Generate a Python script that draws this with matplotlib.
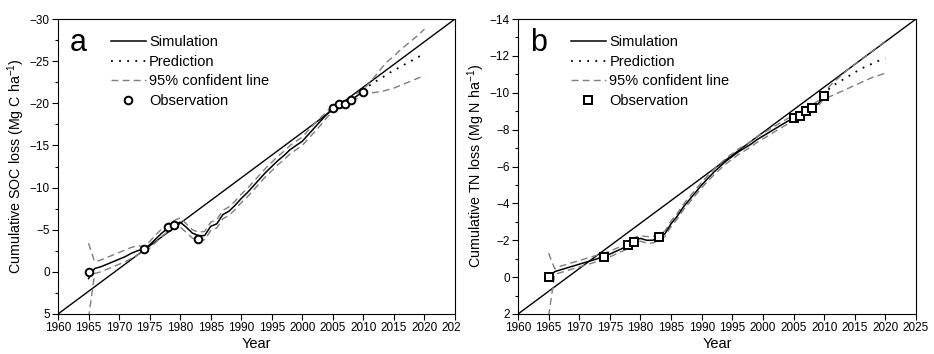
import matplotlib
matplotlib.use("Agg")
import matplotlib.pyplot as plt
from matplotlib.lines import Line2D
from matplotlib.transforms import Bbox, TransformedBbox
import numpy as np

plt.rcParams['font.family'] = ['Liberation Sans', 'DejaVu Sans']
plt.rcParams['mathtext.default'] = 'regular'

# ---------------- data ----------------
sim_years = list(range(1965, 2011))
pred_years = list(range(2010, 2021))
ci_years = list(range(1965, 2021))

# Panel a: SOC
soc_obs_years = [1965, 1974, 1978, 1979, 1983, 2005, 2006, 2007, 2008, 2010]
soc_obs = [0.0, -2.75, -5.3, -5.6, -3.9, -19.4, -19.9, -19.9, -20.35, -21.3]
soc_sim = [0.8, -0.4, -0.6, -0.9, -1.2, -1.5, -1.8, -2.2, -2.5, -2.7,
           -3.2, -3.9, -4.6, -5.2, -5.6, -5.9, -5.3, -4.6, -4.3, -4.3,
           -5.4, -5.7, -6.8, -7.2, -7.9, -8.7, -9.4, -10.2, -11.0, -11.8,
           -12.5, -13.2, -13.8, -14.5, -15.0, -15.5, -16.3, -17.1, -17.9, -18.7,
           -19.4, -19.8, -20.0, -20.4, -20.9, -21.4]
soc_pred = [-21.4, -22.1, -22.6, -23.0, -23.5, -23.9, -24.3, -24.7, -25.1, -25.5, -25.9]
soc_ci_up = [-3.4, -1.2, -1.4, -1.7, -2.0, -2.3, -2.6, -2.9, -3.1, -3.0,
             -3.6, -4.4, -5.1, -5.7, -6.1, -6.4, -5.7, -5.0, -4.7, -4.8,
             -5.9, -6.2, -7.3, -7.7, -8.4, -9.2, -9.9, -10.7, -11.5, -12.3,
             -13.0, -13.7, -14.3, -15.0, -15.5, -16.0, -16.8, -17.6, -18.3, -19.0,
             -19.7, -20.1, -20.3, -20.7, -21.2, -21.7, -22.4, -23.3, -24.2, -25.0,
             -25.6, -26.3, -26.9, -27.5, -28.1, -28.8]
soc_ci_low = [5.5, 0.2, 0.0, -0.3, -0.6, -0.9, -1.2, -1.6, -2.0, -2.4,
              -2.8, -3.5, -4.2, -4.8, -5.2, -5.3, -4.7, -4.0, -3.7, -3.8,
              -4.9, -5.2, -6.3, -6.7, -7.4, -8.2, -8.9, -9.7, -10.5, -11.3,
              -12.0, -12.7, -13.3, -14.0, -14.5, -15.0, -15.8, -16.6, -17.4, -18.3,
              -19.1, -19.5, -19.7, -20.1, -20.6, -21.0, -21.2, -21.3, -21.4, -21.6,
              -21.8, -22.1, -22.4, -22.7, -23.0, -23.3]
soc_oneone_x = [1960, 2025]
soc_oneone_y = [5, -30]

# Panel b: TN
tn_obs_years = [1965, 1974, 1978, 1979, 1983, 2005, 2006, 2007, 2008, 2010]
tn_obs = [0.0, -1.1, -1.72, -1.9, -2.15, -8.63, -8.75, -9.02, -9.2, -9.8]
tn_sim = [0.05, -0.3, -0.4, -0.5, -0.6, -0.7, -0.8, -0.9, -1.0, -1.15,
          -1.25, -1.4, -1.55, -1.7, -2.0, -2.1, -2.0, -2.0, -2.15, -2.35,
          -2.9, -3.3, -3.8, -4.2, -4.6, -5.0, -5.35, -5.7, -6.0, -6.3,
          -6.55, -6.8, -7.0, -7.2, -7.45, -7.65, -7.85, -8.05, -8.25, -8.45,
          -8.6, -8.75, -9.0, -9.2, -9.4, -9.8]
tn_pred = [-9.8, -10.3, -10.5, -10.7, -10.9, -11.1, -11.3, -11.45, -11.6, -11.75, -11.85]
tn_ci_up = [-1.3, -0.45, -0.6, -0.7, -0.8, -0.9, -1.0, -1.1, -1.2, -1.3,
            -1.4, -1.55, -1.7, -1.85, -2.15, -2.25, -2.2, -2.2, -2.3, -2.5,
            -3.05, -3.45, -3.95, -4.35, -4.75, -5.15, -5.5, -5.85, -6.15, -6.45,
            -6.7, -6.95, -7.15, -7.35, -7.6, -7.8, -8.0, -8.2, -8.4, -8.6,
            -8.75, -8.9, -9.15, -9.35, -9.55, -9.95, -10.4, -10.7, -11.0, -11.3,
            -11.55, -11.8, -12.05, -12.3, -12.55, -12.8]
tn_ci_low = [2.1, -0.15, -0.25, -0.35, -0.45, -0.55, -0.65, -0.75, -0.85, -1.0,
             -1.1, -1.25, -1.4, -1.55, -1.85, -1.95, -1.85, -1.85, -2.0, -2.2,
             -2.75, -3.15, -3.65, -4.05, -4.45, -4.85, -5.2, -5.55, -5.85, -6.15,
             -6.4, -6.65, -6.85, -7.05, -7.3, -7.5, -7.7, -7.9, -8.1, -8.3,
             -8.45, -8.6, -8.85, -9.05, -9.25, -9.7, -9.8, -9.95, -10.1, -10.25,
             -10.4, -10.55, -10.7, -10.85, -10.95, -11.07]
tn_oneone_x = [1960, 2025]
tn_oneone_y = [2, -14]

x_ticks = list(range(1960, 2030, 5))
soc_yticks = [-30, -25, -20, -15, -10, -5, 0, 5]
tn_yticks = [-14, -12, -10, -8, -6, -4, -2, 0, 2]

# ---------------- figure ----------------
W, H = 934, 354
fig = plt.figure(figsize=(W / 100, H / 100), dpi=100)

def box(l, t, r, b):
    return [l / W, 1 - b / H, (r - l) / W, (b - t) / H]

ax1 = fig.add_axes(box(58, 19, 455, 314))
ax2 = fig.add_axes(box(518, 19, 916, 314))

DASH_COL = '#7f7f7f'
MS = 5.5
MEW = 1.4

def draw(ax, obs_x, obs_y, sim, pred, up, low, ox, oy, marker, ylim, yticks, minor_step,
         ylabel, letter):
    ax.plot(ox, oy, color='black', lw=1.0, zorder=2)
    ax.plot(ci_years, up, color=DASH_COL, lw=1.0, ls=(0, (5, 3)), zorder=3)
    ax.plot(ci_years, low, color=DASH_COL, lw=1.0, ls=(0, (5, 3)), zorder=3)
    ax.plot(sim_years, sim, color='black', lw=1.1, zorder=4)
    ax.plot(pred_years, pred, color='black', lw=1.3, ls=(0, (1, 3.5)), zorder=4)
    ax.plot(obs_x, obs_y, ls='none', marker=marker, ms=MS, mfc='white', mec='black',
            mew=MEW, zorder=5)
    ax.set_xlim(1960, 2025)
    ax.set_ylim(*ylim)
    ax.set_xticks(x_ticks)
    ax.set_yticks(yticks)
    ax.set_yticks(np.arange(min(yticks), max(yticks) + 0.001, minor_step), minor=True)
    ax.tick_params(axis='both', which='major', direction='out', length=4, width=0.8,
                   labelsize=8.5, pad=2)
    ax.tick_params(axis='y', which='minor', direction='out', length=2.5, width=0.8)
    ax.tick_params(axis='x', which='minor', bottom=False)
    for s in ax.spines.values():
        s.set_linewidth(0.8)
    ax.set_xlabel('Year', fontsize=10.5, labelpad=2)
    ax.set_ylabel(ylabel, fontsize=10.3, labelpad=2)
    ax.text(0.03, 0.97, letter, transform=ax.transAxes, fontsize=22, va='top', ha='left')
    handles = [
        Line2D([], [], color='black', lw=1.1),
        Line2D([], [], color='black', lw=1.3, ls=(0, (1, 3.5))),
        Line2D([], [], color=DASH_COL, lw=1.0, ls=(0, (5, 3))),
        Line2D([], [], ls='none', marker=marker, ms=MS, mfc='white', mec='black', mew=MEW),
    ]
    labels = ['Simulation', 'Prediction', '95% confident line', 'Observation']
    ax.legend(handles, labels, loc='upper left', bbox_to_anchor=(0.125, 0.955),
              frameon=False, fontsize=10.5, handlelength=2.4, handletextpad=0.25,
              labelspacing=0.38, borderpad=0.2, borderaxespad=0)

draw(ax1, soc_obs_years, soc_obs, soc_sim, soc_pred, soc_ci_up, soc_ci_low,
     soc_oneone_x, soc_oneone_y, 'o', (5, -30), soc_yticks, 2.5,
     r'Cumulative SOC loss (Mg C ha$^{-1}$)', 'a')
draw(ax2, tn_obs_years, tn_obs, tn_sim, tn_pred, tn_ci_up, tn_ci_low,
     tn_oneone_x, tn_oneone_y, 's', (2, -14), tn_yticks, 1,
     r'Cumulative TN loss (Mg N ha$^{-1}$)', 'b')

# clip the left panel's tick labels at the panel boundary, as in the reference
fig.canvas.draw()
clip = TransformedBbox(Bbox([[0, 0], [461 / W, 1]]), fig.transFigure)
for tk in ax1.xaxis.get_major_ticks():
    tk.label1.set_clip_box(clip)
    tk.label1.set_clip_on(True)

fig.savefig('out.png', dpi=100)
